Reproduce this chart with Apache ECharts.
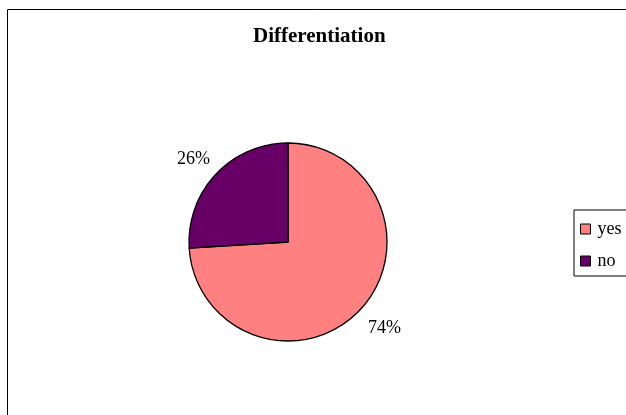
<!DOCTYPE html>
<html lang="en">
<head>
    <meta charset="UTF-8">
    <title>Differentiation</title>
    <script src="https://cdn.jsdelivr.net/npm/echarts@6/dist/echarts.min.js"></script>
    <style>
        html, body { margin: 0; padding: 0; background: #fff; }
        #chart { width: 626px; height: 415px; }
    </style>
</head>
<body>
<div id="chart"></div>
<script>
    // 数据
    var categories = ['yes', 'no'];
    var values = [74, 26];
    var colors = ['#FF8080', '#660066'];
    // label nudges so the percentages sit where the original puts them
    var labelOffsets = [[2, 18], [0, -14]];

    var chart = echarts.init(document.getElementById('chart'));
    var serif = '"Liberation Serif", "Times New Roman", serif';

    var pieData = categories.map(function (name, i) {
        return {
            name: name,
            value: values[i],
            itemStyle: { color: colors[i] },
            label: { offset: labelOffsets[i] }
        };
    });

    var option = {
        animation: false,
        backgroundColor: '#fff',
        title: {
            text: 'Differentiation',
            left: 253,
            top: 26,
            padding: 0,
            textStyle: { fontFamily: serif, fontSize: 21, fontWeight: 'bold', color: '#000' }
        },
        legend: {
            orient: 'vertical',
            left: 574,
            top: 210,
            padding: [10, 30, 6, 6],
            itemGap: 14,
            itemWidth: 10,
            itemHeight: 10,
            icon: 'rect',
            borderColor: '#000',
            borderWidth: 1,
            itemStyle: { borderColor: '#000', borderWidth: 1 },
            textStyle: { fontFamily: serif, fontSize: 18, color: '#000', padding: [0, 0, 0, 2] },
            data: categories
        },
        graphic: [{
            type: 'rect',
            shape: { x: 7.5, y: 9.5, width: 700, height: 500 },
            style: { fill: 'none', stroke: '#000', lineWidth: 1 },
            silent: true
        }],
        series: [{
            type: 'pie',
            center: [288, 242],
            radius: 99,
            startAngle: 90,
            clockwise: true,
            data: pieData,
            itemStyle: { borderColor: '#000', borderWidth: 1.3 },
            label: {
                show: true,
                position: 'outside',
                formatter: '{d}%',
                fontFamily: serif,
                fontSize: 18,
                color: '#000'
            },
            labelLine: { show: false, length: 1, length2: 0 },
            emphasis: { disabled: true }
        }]
    };

    chart.setOption(option);
</script>
</body>
</html>
